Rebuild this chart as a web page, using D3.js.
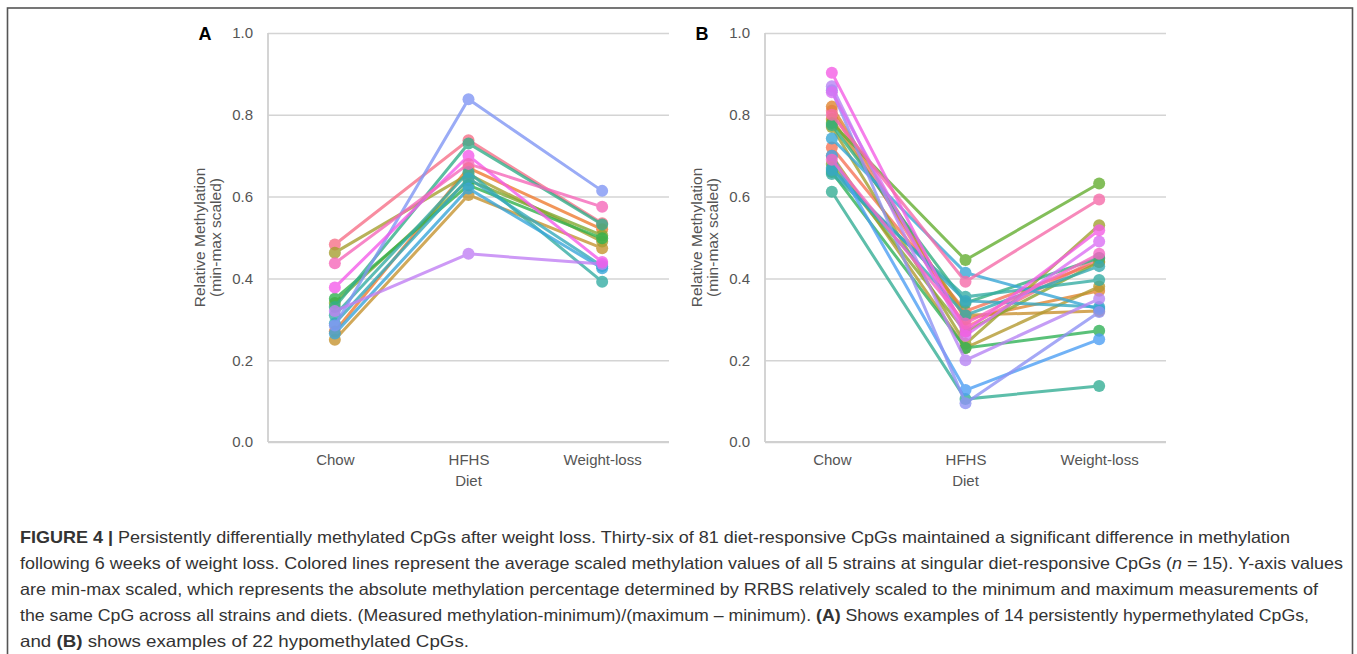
<!doctype html>
<html lang="en">
<head>
<meta charset="utf-8">
<style>
body{margin:0;background:#fff;}
svg text{font-family:"Liberation Sans",Arial,sans-serif;}
.tick text{fill:#555;font-size:15px;}
.tick line{stroke:#d4d4d4;stroke-width:1.5;}
</style>
</head>
<body>
<div id="grafico"></div>
<script src="https://d3js.org/d3.v7.min.js"></script>
<script>

var dietas = ["Chow","HFHS","Weight-loss"];
var ticksY = [0,0.2,0.4,0.6,0.8,1.0];

// A: 14 hypermethylated CpGs, values for Chow, HFHS, Weight-loss
var hiperA = [
	[0.483,0.738,0.535],
	[0.270,0.670,0.520],
	[0.250,0.604,0.474],
	[0.463,0.655,0.490],
	[0.340,0.640,0.505],
	[0.350,0.628,0.498],
	[0.330,0.730,0.532],
	[0.310,0.660,0.392],
	[0.290,0.645,0.430],
	[0.265,0.620,0.425],
	[0.285,0.838,0.614],
	[0.320,0.460,0.435],
	[0.378,0.700,0.440],
	[0.437,0.680,0.575]
];

// B: 22 hypomethylated CpGs
var hipoB = [
	[0.810,0.280,0.450],
	[0.720,0.320,0.440],
	[0.820,0.300,0.370],
	[0.790,0.310,0.320],
	[0.700,0.230,0.380],
	[0.770,0.240,0.530],
	[0.680,0.270,0.440],
	[0.780,0.445,0.632],
	[0.660,0.230,0.272],
	[0.775,0.340,0.450],
	[0.612,0.105,0.137],
	[0.655,0.355,0.396],
	[0.670,0.310,0.430],
	[0.665,0.345,0.330],
	[0.742,0.414,0.325],
	[0.700,0.127,0.251],
	[0.860,0.095,0.318],
	[0.870,0.200,0.350],
	[0.855,0.260,0.490],
	[0.903,0.270,0.518],
	[0.690,0.290,0.460],
	[0.800,0.392,0.593]
];

var leyenda = [
	[["FIGURE 4 | ","b"],["Persistently differentially methylated CpGs after weight loss. Thirty-six of 81 diet-responsive CpGs maintained a significant difference in methylation",""]],
	[["following 6 weeks of weight loss. Colored lines represent the average scaled methylation values of all 5 strains at singular diet-responsive CpGs (",""],["n","i"],[" = 15). Y-axis values",""]],
	[["are min-max scaled, which represents the absolute methylation percentage determined by RRBS relatively scaled to the minimum and maximum measurements of",""]],
	[["the same CpG across all strains and diets. (Measured methylation-minimum)/(maximum \u2013 minimum). ",""],["(A)","b"],[" Shows examples of 14 persistently hypermethylated CpGs,",""]],
	[["and ",""],["(B)","b"],[" shows examples of 22 hypomethylated CpGs.",""]]
];
var finLinea = [1290,1343,1318,1309,469];

// seaborn husl palette (h=.01, s=.9, l=.65)
function husl(h, s, l){
	var m = [[3.240969941904521,-1.537383177570093,-0.498610760293],
		[-0.96924363628087,1.87596750150772,0.041555057407175],
		[0.055630079696993,-0.20397695888897,1.056971514242878]];
	var kappa = 903.2962962, eps = 0.0088564516;
	var hr = h/180*Math.PI;
	var sub1 = Math.pow(l+16,3)/1560896, sub2 = sub1>eps ? sub1 : l/kappa;
	var maxC = Infinity;
	m.forEach(function(r){
		[0,1].forEach(function(t){
			var top1 = (284517*r[0]-94839*r[2])*sub2;
			var top2 = (838422*r[2]+769860*r[1]+731718*r[0])*l*sub2 - 769860*t*l;
			var bot = (632260*r[2]-126452*r[1])*sub2 + 126452*t;
			var len = (top2/bot)/(Math.sin(hr)-(top1/bot)*Math.cos(hr));
			if (len>=0) maxC = Math.min(maxC,len);
		});
	});
	var c = maxC/100*s;
	var u = c*Math.cos(hr), v = c*Math.sin(hr);
	var vu = u/(13*l)+0.19783000664283, vv = v/(13*l)+0.46831999493879;
	var Y = l<=8 ? l/kappa : Math.pow((l+16)/116,3);
	var X = 0-(9*Y*vu)/((vu-4)*vv-vu*vv);
	var Z = (9*Y-15*vv*Y-vv*X)/(3*vv);
	var rgb = m.map(function(r){
		var k = r[0]*X+r[1]*Y+r[2]*Z;
		k = k<=0.0031308 ? 12.92*k : 1.055*Math.pow(k,1/2.4)-0.055;
		return Math.round(Math.max(0,Math.min(1,k))*255);
	});
	return d3.rgb(rgb[0],rgb[1],rgb[2]).formatHex();
}
function paleta(n){
	return d3.range(n).map(function(i){ return husl(((i/n+0.01)%1)*359, 89.1, 64.35); });
}

var svg = d3.select("#grafico").append("svg").attr("width",1357).attr("height",654);

// frame
svg.append("rect").attr("x",7.5).attr("y",8).attr("width",1345).attr("height",700)
	.attr("fill","none").attr("stroke","#555").attr("stroke-width",1.6);

var y = d3.scaleLinear().domain([0,1]).range([442,33]);

var paneles = [
	{letra:"A", x0:268, x1:669, datos:hiperA},
	{letra:"B", x0:765, x1:1166, datos:hipoB}
];

paneles.forEach(function(p){
	var x = d3.scalePoint().domain(dietas).range([p.x0,p.x1]).padding(0.5);
	var colores = paleta(p.datos.length);
	var g = svg.append("g");

	var ejeY = g.append("g").attr("transform","translate("+p.x0+",0)")
		.call(d3.axisLeft(y).tickValues(ticksY).tickFormat(d3.format(".1f")).tickSize(-(p.x1-p.x0)).tickPadding(15));
	ejeY.select(".domain").remove();

	g.append("line").attr("x1",p.x0).attr("x2",p.x0).attr("y1",y(0)).attr("y2",y(1))
		.attr("stroke","#d0d0d0").attr("stroke-width",1.8);
	g.append("line").attr("x1",p.x0).attr("x2",p.x1).attr("y1",y(0)).attr("y2",y(0))
		.attr("stroke","#d0d0d0").attr("stroke-width",1.8);

	var ejeX = g.append("g").attr("transform","translate(0,"+y(0)+")")
		.call(d3.axisBottom(x).tickSize(0).tickPadding(12));
	ejeX.select(".domain").remove();

	g.append("text").text("Diet").attr("x",x("HFHS")).attr("y",486).attr("text-anchor","middle")
		.attr("fill","#555").style("font-size","15px");

	g.append("text").attr("transform","translate("+(p.x0-63)+","+((y(0)+y(1))/2)+") rotate(-90)")
		.attr("text-anchor","middle").attr("fill","#555").style("font-size","15.5px")
		.selectAll("tspan").data(["Relative Methylation","(min-max scaled)"]).enter().append("tspan")
		.attr("x",0).attr("dy",function(d,i){ return i==0 ? 0 : "1.05em"; }).text(function(d){ return d; });

	g.append("text").text(p.letra).attr("x",p.x0-63).attr("y",40).attr("text-anchor","middle")
		.attr("fill","#000").style("font-size","18px").style("font-weight","bold");

	var linea = d3.line().x(function(d,i){ return x(dietas[i]); }).y(function(d){ return y(d); });

	var serie = g.selectAll("g.serie").data(p.datos).enter().append("g").attr("class","serie")
		.attr("opacity",0.8);
	serie.append("path").attr("d",linea).attr("fill","none")
		.attr("stroke",function(d,i){ return colores[i]; }).attr("stroke-width",3);
	serie.each(function(d,i){
		d3.select(this).selectAll("circle").data(d).enter().append("circle")
			.attr("cx",function(v,j){ return x(dietas[j]); }).attr("cy",function(v){ return y(v); })
			.attr("r",6).attr("fill",colores[i]);
	});
});

// caption
leyenda.forEach(function(partes,i){
	var t = svg.append("text").attr("x",20).attr("y",543+i*26).attr("fill","#333")
		.style("font-size","16.5px").attr("textLength",finLinea[i]-20).attr("lengthAdjust","spacingAndGlyphs");
	partes.forEach(function(s){
		t.append("tspan").text(s[0])
			.style("font-weight",s[1]=="b" ? "bold" : "normal")
			.style("font-style",s[1]=="i" ? "italic" : "normal");
	});
});

</script>
</body>
</html>
